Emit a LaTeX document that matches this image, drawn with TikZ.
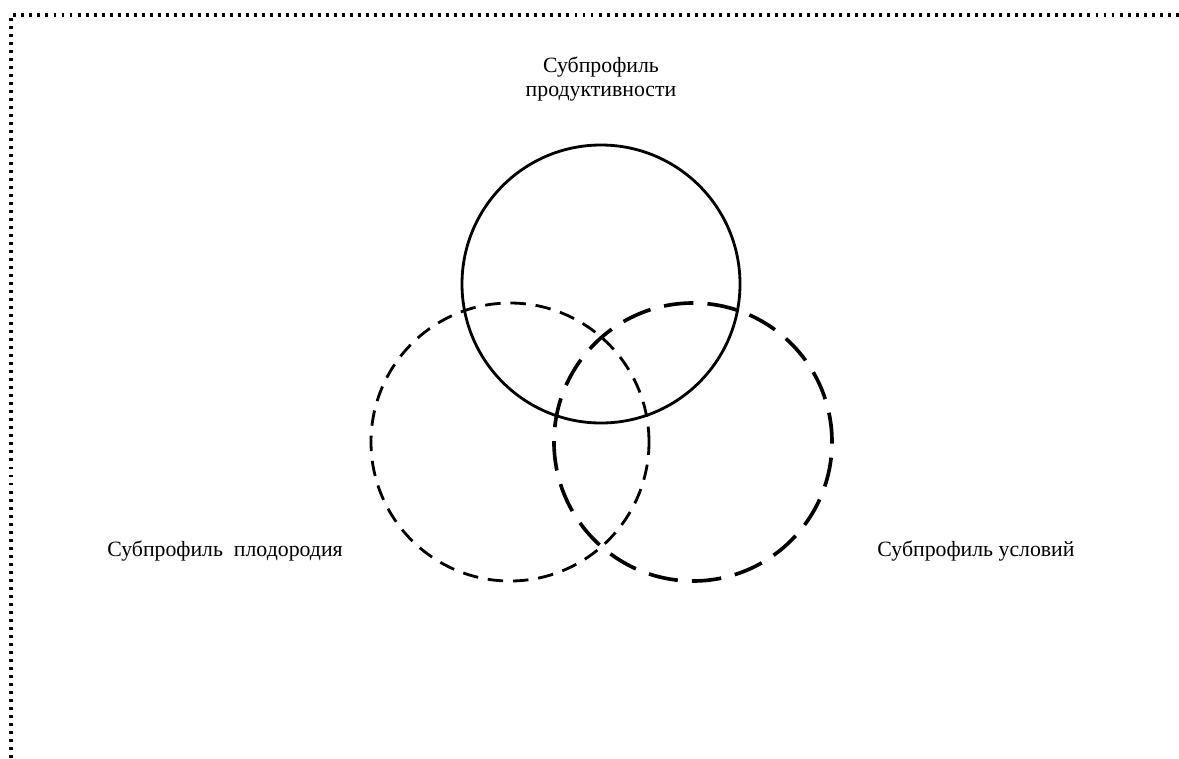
\documentclass[tikz,border=0pt]{standalone}
\usepackage{fontspec}
\setmainfont{Liberation Serif}
\usetikzlibrary{
  positioning,
}

\tikzset{
  profile/.style={
    circle,
    draw,
    minimum size=278*0.025cm,
    inner sep=0pt,
  },
  label text/.style={
    font=\fontsize{15.5}{17}\selectfont,
    align=center,
    inner sep=0pt,
  },
}

\begin{document}
\begin{tikzpicture}[x=0.025cm,y=-0.025cm]
\useasboundingbox (0,0) rectangle (1179,758);
\draw[line width=2.2pt, dash pattern=on 2.1pt off 3.6pt] (11,758) -- (11,15) -- (1179,15);

% three subprofiles
\node[profile, line width=2pt] (prod) at (601,284) {};
\node[profile, line width=2pt, dash pattern=on 11pt off 7pt] (fert) at (510,442) {};
\node[profile, line width=2.6pt, dash pattern=on 21pt off 10pt] (cond) at (693,442) {};

\node[label text] (prodtext) at (601,79) {Субпрофиль\\продуктивности};
\node[label text] (ferttext) at (225,551) {Субпрофиль\ \ плодородия};
\node[label text] (condtext) at (976,551) {Субпрофиль условий};
\end{tikzpicture}
\end{document}
